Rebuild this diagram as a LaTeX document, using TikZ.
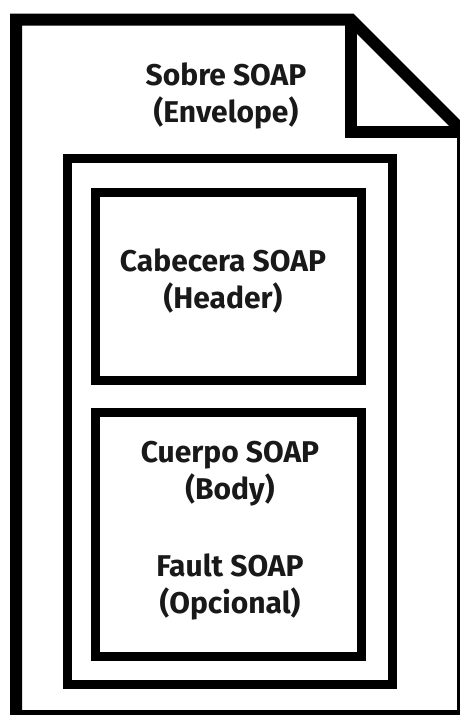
\documentclass[tikz,border=0pt]{standalone}
\usepackage{fontspec}
\setmainfont{Fira Sans}
\usetikzlibrary{positioning}

\tikzset{
  soapbox/.style={shape=rectangle, draw=black, line width=9pt},
  soaplabel/.style={shape=rectangle, draw=none, align=center, text=black!90,
    font=\bfseries\fontsize{30}{37}\selectfont}
}

\begin{document}
\begin{tikzpicture}[x=1pt,y=-1pt]
%%%%%%%%%%%%%%%%%%%%%%%%%%%%%%%%%%%%%%%%%%% HELP LINES
%\draw[help lines] (0,0) grid +(460,715);
\useasboundingbox (0,0) rectangle (460,715);

%%%%%%%%%%%%%%%%%%%%%%%%%%%%%%%%%%%%%%%%%%% envelope sheet
\draw[line width=12pt] (16,19.5) -- (351,19.5) -- (463,131.5) -- (463,716) -- (16,716) -- cycle;
\draw[line width=12pt] (351,19.5) -- (351,131.5) -- (463,131.5);
\node[soaplabel](envelope) at (226,96) {Sobre SOAP\\(Envelope)};

%%%%%%%%%%%%%%%%%%%%%%%%%%%%%%%%%%%%%%%%%%% elements
\node[soapbox, minimum width=324.5pt, minimum height=526pt](content) at (229.75,421) {};
\node[soapbox, minimum width=266pt, minimum height=188.5pt](header) at (228.5,286.25) {};
\node[soapbox, minimum width=266pt, minimum height=243.5pt](body) at (228.5,534.25) {};

%%%%% texts
\node[soaplabel](headertxt) at (223,281) {Cabecera SOAP\\(Header)};
\node[soaplabel](bodytxt) at (230,474) {Cuerpo SOAP\\(Body)};
\node[soaplabel](faulttxt) at (230,587) {Fault SOAP\\(Opcional)};
\end{tikzpicture}
\end{document}
